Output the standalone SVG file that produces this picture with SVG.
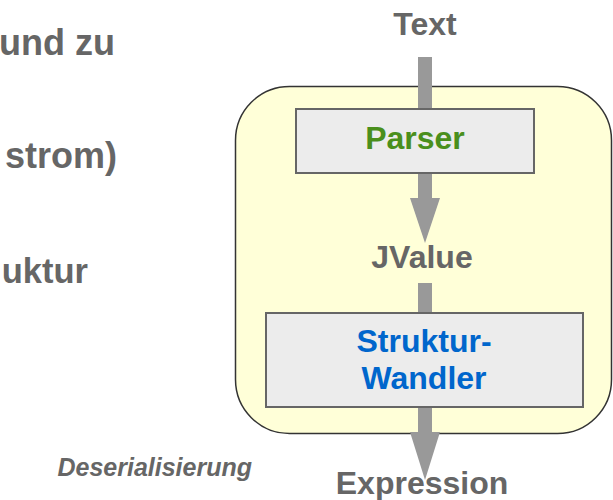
<svg xmlns="http://www.w3.org/2000/svg" width="613" height="500" viewBox="0 0 613 500">
<style>
.t{font-family:"Liberation Sans",Arial,sans-serif;font-weight:bold;fill:#666666}
.m{font-size:32px}
.box{fill:#ececec;stroke:#666666;stroke-width:2}
.arr{fill:#999999}
</style>
<rect width="613" height="500" fill="#ffffff"/>
<g id="left-text">
<text class="t" x="115" y="55" font-size="36" text-anchor="end">und zu</text>
<text class="t" x="117" y="168" font-size="36" text-anchor="end">strom)</text>
<text class="t" x="88" y="283" font-size="34.5" text-anchor="end">uktur</text>
<text class="t" x="252" y="476" font-size="25" font-style="italic" text-anchor="end">Deserialisierung</text>
</g>
<g id="container">
<rect x="235.5" y="86.5" width="376" height="347" rx="54" ry="54" fill="#ffffd8" stroke="#333333" stroke-width="1.5"/>
</g>
<g id="connectors">
<rect class="arr" x="418" y="57" width="14" height="54"/>
<polygon class="arr" points="418,172 432,172 432,198 440,198 425,243 410,198 418,198"/>
<rect class="arr" x="418" y="283" width="14" height="32"/>
<polygon class="arr" points="418,406 432,406 432,432 440,432 425,480 410,432 418,432"/>
</g>
<g id="text-label">
<text class="t m" x="425" y="35" text-anchor="middle">Text</text>
</g>
<g id="parser">
<rect class="box" x="296" y="109" width="238" height="64"/>
<text class="t m" x="415" y="149" text-anchor="middle" style="fill:#4a8f1c">Parser</text>
</g>
<g id="jvalue">
<text class="t m" x="422" y="268" text-anchor="middle">JValue</text>
</g>
<g id="strukturwandler">
<rect class="box" x="266" y="313" width="317" height="94"/>
<text class="t m" x="424" y="352" text-anchor="middle" style="fill:#0066cc">Struktur-</text>
<text class="t m" x="424" y="389" text-anchor="middle" style="fill:#0066cc">Wandler</text>
</g>
<g id="expression">
<text class="t m" x="422" y="494" text-anchor="middle">Expression</text>
</g>
</svg>
